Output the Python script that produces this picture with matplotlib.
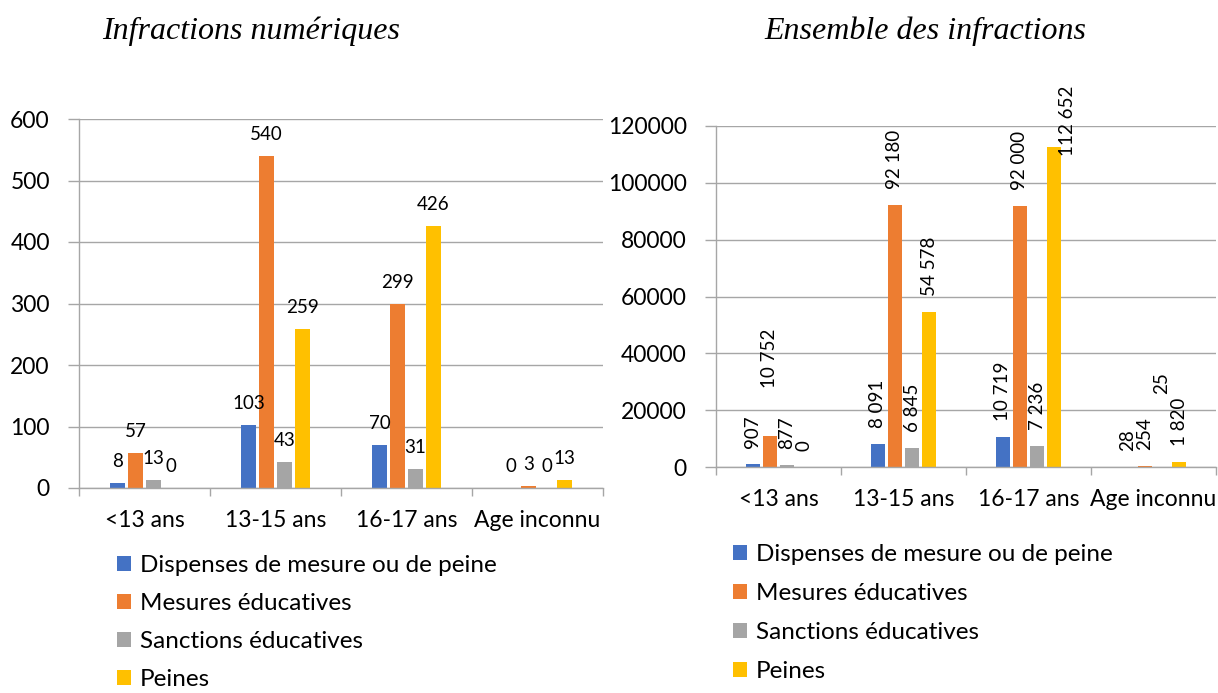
import matplotlib
matplotlib.use("Agg")
import matplotlib.pyplot as plt
from matplotlib.patches import Patch
import numpy as np

# ---------------- data ----------------
categories = ["<13 ans", "13-15 ans", "16-17 ans", "Age inconnu"]
series_names = ["Dispenses de mesure ou de peine", "Mesures éducatives",
                "Sanctions éducatives", "Peines"]

num_dispenses = [8, 103, 70, 0]
num_mesures = [57, 540, 299, 3]
num_sanctions = [13, 43, 31, 0]
num_peines = [0, 259, 426, 13]

all_dispenses = [907, 8091, 10719, 28]
all_mesures = [10752, 92180, 92000, 254]
all_sanctions = [877, 6845, 7236, 25]
all_peines = [0, 54578, 112652, 1820]

left_title = "Infractions numériques"
right_title = "Ensemble des infractions"
left_yticks = [0, 100, 200, 300, 400, 500, 600]
right_yticks = [0, 20000, 40000, 60000, 80000, 100000, 120000]

# ---------------- style ----------------
colors = ["#4472C4", "#ED7D31", "#A5A5A5", "#FFC000"]
grid_col = "#A6A6A6"
FONT = "Lato"
W, H = 1218, 693
DPI = 100
PX = 72.0 / DPI  # points per pixel

# manual label nudges (pixels): (category index, series index) -> (dx, dy)
left_nudges = {}
right_nudges = {(0, 1): (0, 32), (2, 3): (13, -25), (3, 2): (0, 57)}

fig = plt.figure(figsize=(W / DPI, H / DPI), dpi=DPI)


def fmt_fr(v):
    return f"{v:,}".replace(",", " ")


def draw(ax, data, yticks, rotate, nudges, gap_px):
    x = np.arange(len(categories))
    width = 0.115
    step = 0.137
    for i, vals in enumerate(data):
        pos = x + (i - 1.5) * step
        ax.bar(pos, vals, width=width, color=colors[i], zorder=3)
        for j, v in enumerate(vals):
            dx, dy = nudges.get((j, i), (0, 0))
            txt = fmt_fr(v) if rotate else str(v)
            ax.annotate(txt, (pos[j], v), xytext=(dx * PX, (gap_px + dy) * PX),
                        textcoords="offset points", ha="center", va="bottom",
                        rotation=90 if rotate else 0, fontsize=13.5,
                        family=FONT, color="black", zorder=5,
                        annotation_clip=False)
    ax.set_xlim(-0.5, len(categories) - 0.5)
    ax.set_ylim(yticks[0], yticks[-1])
    ax.set_yticks(yticks)
    ax.set_yticklabels([str(t) for t in yticks], family=FONT, fontsize=16.5)
    ax.set_xticks(x)
    ax.set_xticklabels(categories, family=FONT, fontsize=16.5)
    ax.set_xticks(np.arange(len(categories) + 1) - 0.5, minor=True)
    ax.tick_params(axis="x", which="major", length=0, pad=16)
    ax.tick_params(axis="x", which="minor", length=6, color=grid_col, width=1)
    ax.tick_params(axis="y", length=8, color=grid_col, width=1, pad=13)
    ax.grid(axis="y", color=grid_col, linewidth=1, zorder=0)
    for s in ["top", "right"]:
        ax.spines[s].set_visible(False)
    for s in ["left", "bottom"]:
        ax.spines[s].set_color(grid_col)
        ax.spines[s].set_linewidth(1)
        ax.spines[s].set_zorder(4)


def frac_box(x0, x1, y_top, y_bot):
    return [x0 / W, 1 - y_bot / H, (x1 - x0) / W, (y_bot - y_top) / H]


axL = fig.add_axes(frac_box(79, 603, 119, 488))
draw(axL, [num_dispenses, num_mesures, num_sanctions, num_peines],
     left_yticks, False, left_nudges, 13)

axR = fig.add_axes(frac_box(716, 1216, 126, 467))
draw(axR, [all_dispenses, all_mesures, all_sanctions, all_peines],
     right_yticks, True, right_nudges, 16)

fig.text(251 / W, 1 - 31 / H, left_title, family="Liberation Serif",
         style="italic", fontsize=23, ha="center", va="center")
fig.text(925 / W, 1 - 31 / H, right_title, family="Liberation Serif",
         style="italic", fontsize=23, ha="center", va="center")

handles = [Patch(facecolor=c, edgecolor="none") for c in colors]
for (lx, ly, ls) in [(117 / W, 1 - 555 / H, 0.70), (733 / W, 1 - 544 / H, 0.74)]:
    fig.legend(handles, series_names, loc="upper left", bbox_to_anchor=(lx, ly),
               frameon=False, prop={"family": FONT, "size": 17.5},
               handlelength=0.58, handleheight=0.58, handletextpad=0.35,
               labelspacing=ls, borderpad=0, borderaxespad=0)

fig.savefig("out.png", dpi=DPI)
